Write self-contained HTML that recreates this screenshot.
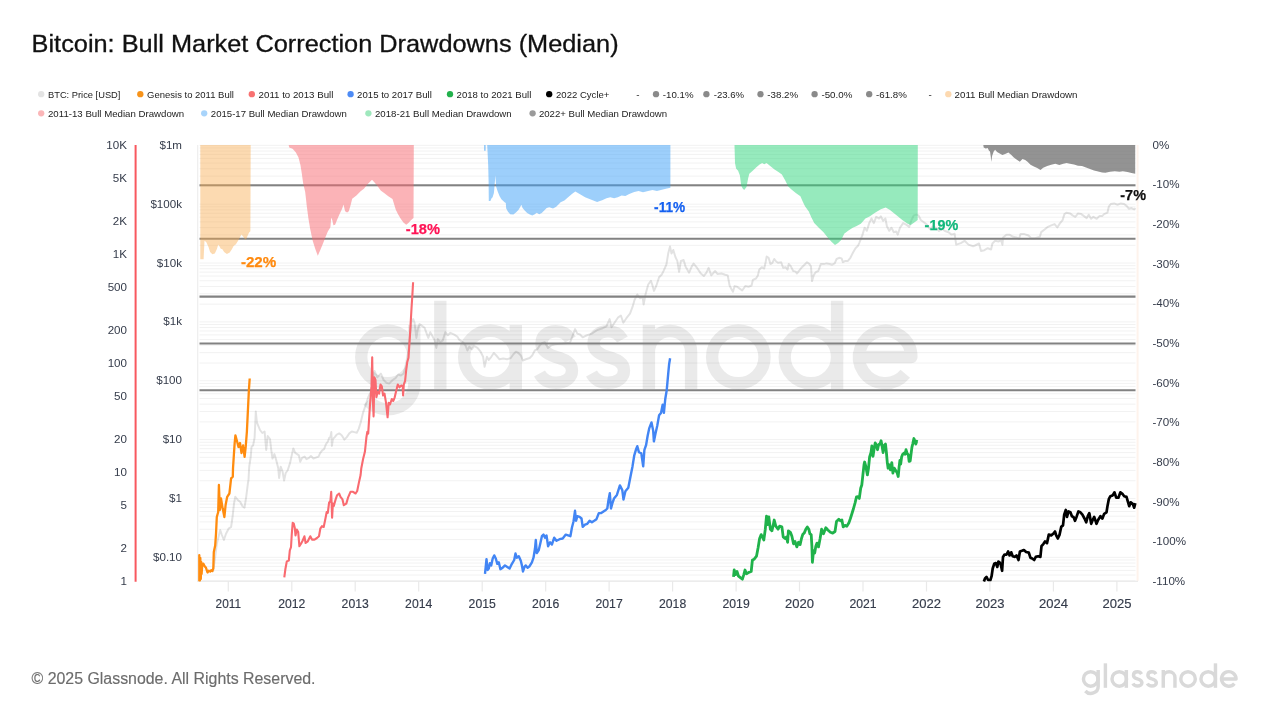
<!DOCTYPE html>
<html><head><meta charset="utf-8"><title>Bitcoin: Bull Market Correction Drawdowns (Median)</title>
<style>html,body{margin:0;padding:0;background:#fff}body{width:1271px;height:715px;overflow:hidden;position:relative;font-family:"Liberation Sans",sans-serif}svg{position:absolute;left:0;top:0;display:block;will-change:transform}text{font-family:"Liberation Sans",sans-serif}</style></head><body>
<svg width="1271" height="715" viewBox="0 0 1271 715">
<rect width="1271" height="715" fill="#fff"/>
<text x="31.6" y="51.5" font-size="24.2" fill="#111" stroke="#111" stroke-width="0.3" textLength="587" lengthAdjust="spacingAndGlyphs">Bitcoin: Bull Market Correction Drawdowns (Median)</text>
<circle cx="41.2" cy="94.2" r="3.15" fill="#e3e3e3"/>
<text x="48.0" y="97.9" font-size="9.8" fill="#222" textLength="72.4" lengthAdjust="spacingAndGlyphs">BTC: Price [USD]</text>
<circle cx="140.3" cy="94.2" r="3.15" fill="#f7931a"/>
<text x="147.1" y="97.9" font-size="9.8" fill="#222" textLength="86.8" lengthAdjust="spacingAndGlyphs">Genesis to 2011 Bull</text>
<circle cx="251.8" cy="94.2" r="3.15" fill="#f87171"/>
<text x="258.6" y="97.9" font-size="9.8" fill="#222" textLength="74.8" lengthAdjust="spacingAndGlyphs">2011 to 2013 Bull</text>
<circle cx="350.6" cy="94.2" r="3.15" fill="#4d8bf5"/>
<text x="357.1" y="97.9" font-size="9.8" fill="#222" textLength="74.8" lengthAdjust="spacingAndGlyphs">2015 to 2017 Bull</text>
<circle cx="450" cy="94.2" r="3.15" fill="#22b14c"/>
<text x="456.6" y="97.9" font-size="9.8" fill="#222" textLength="74.7" lengthAdjust="spacingAndGlyphs">2018 to 2021 Bull</text>
<circle cx="549.2" cy="94.2" r="3.15" fill="#000"/>
<text x="556" y="97.9" font-size="9.8" fill="#222" textLength="53.4" lengthAdjust="spacingAndGlyphs">2022 Cycle+</text>
<text x="636.2" y="97.9" font-size="9.8" fill="#222">-</text>
<circle cx="656" cy="94.2" r="3.15" fill="#8a8a8a"/>
<text x="662.8" y="97.9" font-size="9.8" fill="#222" textLength="30.7" lengthAdjust="spacingAndGlyphs">-10.1%</text>
<circle cx="706.4" cy="94.2" r="3.15" fill="#8a8a8a"/>
<text x="713.7" y="97.9" font-size="9.8" fill="#222" textLength="30.4" lengthAdjust="spacingAndGlyphs">-23.6%</text>
<circle cx="760.5" cy="94.2" r="3.15" fill="#8a8a8a"/>
<text x="767.3" y="97.9" font-size="9.8" fill="#222" textLength="30.9" lengthAdjust="spacingAndGlyphs">-38.2%</text>
<circle cx="814.6" cy="94.2" r="3.15" fill="#8a8a8a"/>
<text x="821.4" y="97.9" font-size="9.8" fill="#222" textLength="31.0" lengthAdjust="spacingAndGlyphs">-50.0%</text>
<circle cx="869.2" cy="94.2" r="3.15" fill="#8a8a8a"/>
<text x="876" y="97.9" font-size="9.8" fill="#222" textLength="30.8" lengthAdjust="spacingAndGlyphs">-61.8%</text>
<text x="928.6" y="97.9" font-size="9.8" fill="#222">-</text>
<circle cx="948.3" cy="94.2" r="3.15" fill="#fdd9b0"/>
<text x="954.6" y="97.9" font-size="9.8" fill="#222" textLength="122.9" lengthAdjust="spacingAndGlyphs">2011 Bull Median Drawdown</text>
<circle cx="41.2" cy="113.3" r="3.15" fill="#fbb6b8"/>
<text x="48.0" y="116.9" font-size="9.8" fill="#222" textLength="136.1" lengthAdjust="spacingAndGlyphs">2011-13 Bull Median Drawdown</text>
<circle cx="204.2" cy="113.3" r="3.15" fill="#a8d4fb"/>
<text x="210.8" y="116.9" font-size="9.8" fill="#222" textLength="136.1" lengthAdjust="spacingAndGlyphs">2015-17 Bull Median Drawdown</text>
<circle cx="368.4" cy="113.3" r="3.15" fill="#9fe8bd"/>
<text x="375" y="116.9" font-size="9.8" fill="#222" textLength="136.7" lengthAdjust="spacingAndGlyphs">2018-21 Bull Median Drawdown</text>
<circle cx="532.6" cy="113.3" r="3.15" fill="#9a9a9a"/>
<text x="538.9" y="116.9" font-size="9.8" fill="#222" textLength="128.2" lengthAdjust="spacingAndGlyphs">2022+ Bull Median Drawdown</text>
<defs><g id="gn" fill="none" stroke-width="12.4" stroke-linecap="butt" stroke-linejoin="round">
<circle cx="387.4" cy="357" r="26.2"/><path d="M414.3 325V384.3A26.3 25 0 0 1 368 400.5"/>
<path d="M440.3 300.8V389"/>
<circle cx="490.3" cy="357" r="26.2"/><path d="M515.8 325V389"/>
<path d="M570.5 339.5 C567.0 333.5 561.0 331.2 556.0 331.2 C547.0 331.2 541.5 336 541.5 343.5 C541.5 351 548.0 354.5 556.0 357 C565.0 359.5 572.0 362.5 572.0 370.5 C572.0 378 565.0 382.8 556.0 382.8 C549.0 382.8 543.0 380 539.5 373.5"/>
<path d="M622.5 339.5 C619.0 333.5 613.0 331.2 608.0 331.2 C599.0 331.2 593.5 336 593.5 343.5 C593.5 351 600.0 354.5 608.0 357 C617.0 359.5 624.0 362.5 624.0 370.5 C624.0 378 617.0 382.8 608.0 382.8 C601.0 382.8 595.0 380 591.5 373.5"/>
<path d="M648.9 389V325M648.9 352A21.1 21.1 0 0 1 691.1 352V389"/>
<circle cx="738.3" cy="357" r="26.2"/>
<circle cx="810.9" cy="357" r="26.2"/><path d="M837.1 300.8V389"/>
<path d="M859 357H911.4A26.2 26.2 0 1 0 905.3 373.8"/>
</g></defs>
<g stroke="#f2f2f2" stroke-width="1" fill="none">
<path d="M199.5 580.72H1135.5"/>
<path d="M199.5 575.02H1135.5"/>
<path d="M199.5 570.36H1135.5"/>
<path d="M199.5 566.42H1135.5"/>
<path d="M199.5 563.00H1135.5"/>
<path d="M199.5 559.99H1135.5"/>
<path d="M199.5 557.30H1135.5"/>
<path d="M199.5 539.58H1135.5"/>
<path d="M199.5 529.22H1135.5"/>
<path d="M199.5 521.86H1135.5"/>
<path d="M199.5 516.16H1135.5"/>
<path d="M199.5 511.50H1135.5"/>
<path d="M199.5 507.56H1135.5"/>
<path d="M199.5 504.15H1135.5"/>
<path d="M199.5 501.14H1135.5"/>
<path d="M199.5 498.44H1135.5"/>
<path d="M199.5 480.72H1135.5"/>
<path d="M199.5 470.36H1135.5"/>
<path d="M199.5 463.01H1135.5"/>
<path d="M199.5 457.30H1135.5"/>
<path d="M199.5 452.64H1135.5"/>
<path d="M199.5 448.70H1135.5"/>
<path d="M199.5 445.29H1135.5"/>
<path d="M199.5 442.28H1135.5"/>
<path d="M199.5 439.58H1135.5"/>
<path d="M199.5 421.87H1135.5"/>
<path d="M199.5 411.50H1135.5"/>
<path d="M199.5 404.15H1135.5"/>
<path d="M199.5 398.45H1135.5"/>
<path d="M199.5 393.79H1135.5"/>
<path d="M199.5 389.85H1135.5"/>
<path d="M199.5 386.43H1135.5"/>
<path d="M199.5 383.42H1135.5"/>
<path d="M199.5 380.73H1135.5"/>
<path d="M199.5 363.01H1135.5"/>
<path d="M199.5 352.65H1135.5"/>
<path d="M199.5 345.29H1135.5"/>
<path d="M199.5 339.59H1135.5"/>
<path d="M199.5 334.93H1135.5"/>
<path d="M199.5 330.99H1135.5"/>
<path d="M199.5 327.57H1135.5"/>
<path d="M199.5 324.56H1135.5"/>
<path d="M199.5 321.87H1135.5"/>
<path d="M199.5 304.15H1135.5"/>
<path d="M199.5 293.79H1135.5"/>
<path d="M199.5 286.44H1135.5"/>
<path d="M199.5 280.73H1135.5"/>
<path d="M199.5 276.07H1135.5"/>
<path d="M199.5 272.13H1135.5"/>
<path d="M199.5 268.72H1135.5"/>
<path d="M199.5 265.71H1135.5"/>
<path d="M199.5 263.01H1135.5"/>
<path d="M199.5 245.30H1135.5"/>
<path d="M199.5 234.93H1135.5"/>
<path d="M199.5 227.58H1135.5"/>
<path d="M199.5 221.87H1135.5"/>
<path d="M199.5 217.21H1135.5"/>
<path d="M199.5 213.27H1135.5"/>
<path d="M199.5 209.86H1135.5"/>
<path d="M199.5 206.85H1135.5"/>
<path d="M199.5 204.16H1135.5"/>
<path d="M199.5 186.44H1135.5"/>
<path d="M199.5 176.08H1135.5"/>
<path d="M199.5 168.72H1135.5"/>
<path d="M199.5 163.02H1135.5"/>
<path d="M199.5 158.36H1135.5"/>
<path d="M199.5 154.42H1135.5"/>
<path d="M199.5 151.00H1135.5"/>
<path d="M199.5 147.99H1135.5"/>
<path d="M199.5 145.30H1135.5"/>
</g>
<path d="M197.7 145.0V581" stroke="#eeeeee" stroke-width="1.2"/>
<path d="M1137.6 145.0V581" stroke="#fef3ec" stroke-width="2"/>
<path d="M197 581.3H1138" stroke="#ececec" stroke-width="1.2"/>
<path d="M228.3 581V591.5" stroke="#e9e9e9" stroke-width="1.2"/>
<text x="228.3" y="607.8" font-size="12.4" fill="#343b4a" stroke="#343b4a" stroke-width="0.15" text-anchor="middle" textLength="25.5" lengthAdjust="spacingAndGlyphs">2011</text>
<path d="M291.8 581V591.5" stroke="#e9e9e9" stroke-width="1.2"/>
<text x="291.8" y="607.8" font-size="12.4" fill="#343b4a" stroke="#343b4a" stroke-width="0.15" text-anchor="middle" textLength="27.2" lengthAdjust="spacingAndGlyphs">2012</text>
<path d="M355.2 581V591.5" stroke="#e9e9e9" stroke-width="1.2"/>
<text x="355.2" y="607.8" font-size="12.4" fill="#343b4a" stroke="#343b4a" stroke-width="0.15" text-anchor="middle" textLength="27.2" lengthAdjust="spacingAndGlyphs">2013</text>
<path d="M418.7 581V591.5" stroke="#e9e9e9" stroke-width="1.2"/>
<text x="418.7" y="607.8" font-size="12.4" fill="#343b4a" stroke="#343b4a" stroke-width="0.15" text-anchor="middle" textLength="27.2" lengthAdjust="spacingAndGlyphs">2014</text>
<path d="M482.2 581V591.5" stroke="#e9e9e9" stroke-width="1.2"/>
<text x="482.2" y="607.8" font-size="12.4" fill="#343b4a" stroke="#343b4a" stroke-width="0.15" text-anchor="middle" textLength="27.2" lengthAdjust="spacingAndGlyphs">2015</text>
<path d="M545.7 581V591.5" stroke="#e9e9e9" stroke-width="1.2"/>
<text x="545.7" y="607.8" font-size="12.4" fill="#343b4a" stroke="#343b4a" stroke-width="0.15" text-anchor="middle" textLength="27.2" lengthAdjust="spacingAndGlyphs">2016</text>
<path d="M609.1 581V591.5" stroke="#e9e9e9" stroke-width="1.2"/>
<text x="609.1" y="607.8" font-size="12.4" fill="#343b4a" stroke="#343b4a" stroke-width="0.15" text-anchor="middle" textLength="27.2" lengthAdjust="spacingAndGlyphs">2017</text>
<path d="M672.6 581V591.5" stroke="#e9e9e9" stroke-width="1.2"/>
<text x="672.6" y="607.8" font-size="12.4" fill="#343b4a" stroke="#343b4a" stroke-width="0.15" text-anchor="middle" textLength="27.2" lengthAdjust="spacingAndGlyphs">2018</text>
<path d="M736.1 581V591.5" stroke="#e9e9e9" stroke-width="1.2"/>
<text x="736.1" y="607.8" font-size="12.4" fill="#343b4a" stroke="#343b4a" stroke-width="0.15" text-anchor="middle" textLength="27.2" lengthAdjust="spacingAndGlyphs">2019</text>
<path d="M799.5 581V591.5" stroke="#e9e9e9" stroke-width="1.2"/>
<text x="799.5" y="607.8" font-size="12.4" fill="#343b4a" stroke="#343b4a" stroke-width="0.15" text-anchor="middle" textLength="29.0" lengthAdjust="spacingAndGlyphs">2020</text>
<path d="M863.0 581V591.5" stroke="#e9e9e9" stroke-width="1.2"/>
<text x="863.0" y="607.8" font-size="12.4" fill="#343b4a" stroke="#343b4a" stroke-width="0.15" text-anchor="middle" textLength="27.2" lengthAdjust="spacingAndGlyphs">2021</text>
<path d="M926.5 581V591.5" stroke="#e9e9e9" stroke-width="1.2"/>
<text x="926.5" y="607.8" font-size="12.4" fill="#343b4a" stroke="#343b4a" stroke-width="0.15" text-anchor="middle" textLength="29.0" lengthAdjust="spacingAndGlyphs">2022</text>
<path d="M989.9 581V591.5" stroke="#e9e9e9" stroke-width="1.2"/>
<text x="989.9" y="607.8" font-size="12.4" fill="#343b4a" stroke="#343b4a" stroke-width="0.15" text-anchor="middle" textLength="29.0" lengthAdjust="spacingAndGlyphs">2023</text>
<path d="M1053.4 581V591.5" stroke="#e9e9e9" stroke-width="1.2"/>
<text x="1053.4" y="607.8" font-size="12.4" fill="#343b4a" stroke="#343b4a" stroke-width="0.15" text-anchor="middle" textLength="29.0" lengthAdjust="spacingAndGlyphs">2024</text>
<path d="M1116.9 581V591.5" stroke="#e9e9e9" stroke-width="1.2"/>
<text x="1116.9" y="607.8" font-size="12.4" fill="#343b4a" stroke="#343b4a" stroke-width="0.15" text-anchor="middle" textLength="29.0" lengthAdjust="spacingAndGlyphs">2025</text>
<use href="#gn" stroke="#000" opacity="0.08"/>
<path d="M213.0 572.0 L215.2 557.0 L216.8 543.8 L218.5 537.0 L220.2 530.0 L221.9 535.0 L223.9 540.0 L226.0 533.8 L228.6 528.7 L231.1 527.0 L232.8 515.0 L234.0 503.6 L235.3 496.8 L237.8 500.0 L240.3 502.0 L242.3 506.0 L244.5 507.7 L246.2 496.8 L247.9 483.4 L248.5 480.0 L249.2 467.0 L250.8 456.0 L251.5 447.0 L253.1 445.4 L254.6 437.7 L255.4 420.8 L255.8 411.5 L256.9 422.3 L260.0 430.0 L262.3 433.0 L264.6 431.5 L266.2 450.0 L267.7 436.0 L270.0 439.0 L271.3 450.3 L272.5 458.5 L274.4 454.1 L276.3 460.4 L278.2 468.0 L279.1 478.0 L280.7 466.7 L282.6 471.7 L284.1 480.6 L285.7 473.0 L287.6 470.5 L290.1 462.9 L292.0 454.1 L293.3 448.5 L295.2 452.9 L297.1 454.1 L298.9 455.4 L300.2 461.7 L302.1 457.9 L304.6 456.6 L306.5 459.2 L309.0 457.9 L310.9 456.0 L313.4 458.5 L315.9 457.6 L318.5 456.6 L320.3 452.9 L322.2 450.3 L324.1 449.1 L326.0 444.1 L327.9 441.5 L329.2 437.8 L330.4 437.1 L331.3 432.1 L331.9 445.9 L332.9 439.0 L334.8 437.1 L336.7 434.6 L339.2 433.4 L341.7 435.2 L344.3 439.6 L346.8 437.1 L349.3 433.4 L351.8 431.5 L354.3 432.1 L356.8 432.7 L358.7 428.9 L360.6 422.7 L363.1 412.6 L365.7 405.0 L368.2 397.3 L370.9 391.8 L374.5 370.9 L377.3 377.3 L380.9 373.6 L383.6 380.0 L386.4 382.7 L389.1 383.6 L392.7 380.0 L395.5 378.2 L398.2 374.5 L400.9 375.5 L403.6 373.6 L405.1 368.0 L406.4 362.0 L408.5 350.0 L410.0 334.6 L411.5 322.0 L413.2 319.0 L414.5 322.7 L416.4 337.9 L417.6 330.3 L419.5 324.0 L422.0 325.9 L424.6 327.8 L426.4 332.8 L428.3 337.9 L430.2 332.2 L432.7 336.6 L434.6 340.4 L436.3 347.9 L437.8 339.1 L440.3 342.3 L442.8 340.4 L445.3 332.2 L447.9 335.3 L450.4 332.8 L454.2 334.7 L457.3 336.6 L459.2 339.7 L463.0 342.3 L465.5 345.4 L467.4 350.5 L469.3 346.7 L471.8 349.2 L474.3 346.0 L477.5 347.9 L480.6 351.7 L483.1 356.8 L484.6 366.8 L486.9 356.8 L488.8 359.9 L491.3 356.8 L493.8 353.0 L496.3 355.5 L499.5 359.3 L503.3 358.6 L507.1 359.3 L510.8 358.0 L513.4 354.2 L515.9 351.7 L518.4 353.0 L520.9 355.5 L522.8 360.5 L525.9 359.3 L529.7 358.0 L532.2 355.5 L534.8 350.5 L537.3 349.2 L539.8 345.4 L542.3 342.9 L544.8 342.3 L548.0 347.9 L551.1 345.4 L554.9 344.2 L562.7 343.6 L570.0 342.7 L572.7 335.5 L575.1 329.1 L577.3 333.6 L580.0 334.5 L582.7 337.3 L586.4 335.5 L591.8 333.6 L597.3 330.0 L602.7 328.2 L606.4 326.4 L609.6 319.1 L611.5 327.3 L614.5 322.7 L618.2 317.3 L620.9 315.5 L623.3 322.7 L626.4 318.2 L630.0 313.6 L632.7 306.4 L634.5 300.0 L637.3 294.5 L640.0 298.2 L642.7 297.3 L643.6 304.5 L645.5 294.5 L648.2 284.5 L650.9 280.9 L652.2 284.5 L654.0 290.9 L656.4 285.5 L659.1 277.3 L661.8 274.5 L663.6 270.9 L666.4 264.5 L668.2 253.6 L670.0 246.4 L671.5 253.6 L673.3 250.0 L675.5 257.3 L677.3 260.9 L679.1 271.8 L680.9 260.9 L683.6 260.0 L685.5 266.4 L689.1 272.7 L691.8 266.4 L693.6 263.6 L697.3 268.2 L700.9 273.6 L703.8 276.0 L706.3 272.9 L708.6 267.8 L711.3 275.4 L715.1 271.0 L717.6 274.1 L721.4 273.5 L725.2 274.8 L727.7 275.4 L729.6 285.5 L731.5 289.2 L733.0 291.8 L734.6 286.1 L737.1 286.7 L739.7 288.6 L742.2 290.5 L745.3 286.1 L748.5 286.7 L751.6 285.5 L752.9 279.8 L756.0 278.5 L757.9 275.4 L759.2 269.7 L761.7 267.2 L764.2 268.5 L765.5 262.8 L766.7 256.5 L768.6 257.8 L770.5 264.1 L772.4 262.8 L774.3 259.0 L776.2 261.5 L778.0 262.8 L781.2 262.2 L783.1 267.8 L785.6 267.2 L787.5 269.7 L788.7 264.1 L790.6 265.9 L793.2 271.0 L795.7 271.6 L796.9 273.5 L799.4 270.4 L802.0 267.2 L804.5 264.7 L807.0 262.2 L809.5 264.1 L811.0 266.6 L812.0 281.1 L813.9 274.8 L815.8 272.2 L818.3 271.0 L820.8 264.1 L824.0 264.1 L826.5 263.4 L829.7 264.1 L832.2 264.7 L834.7 263.4 L836.6 259.0 L839.1 257.8 L841.6 258.4 L842.9 262.2 L845.4 260.9 L847.9 260.9 L850.4 257.8 L852.9 252.7 L855.5 248.3 L858.0 245.8 L859.2 243.1 L862.3 235.4 L864.6 227.7 L866.9 230.8 L869.2 223.1 L871.5 218.5 L873.8 223.1 L876.2 216.9 L879.2 218.5 L880.8 216.2 L883.1 220.8 L885.4 218.5 L886.9 226.2 L889.2 230.8 L891.5 227.7 L893.8 232.3 L896.2 231.5 L897.7 234.6 L900.0 227.7 L903.1 223.1 L906.2 224.6 L909.2 226.9 L911.5 220.0 L913.8 215.4 L916.2 214.6 L918.5 215.4 L920.8 220.0 L923.8 222.3 L926.9 224.6 L930.0 229.2 L933.1 226.2 L936.0 228.0 L939.0 231.0 L942.0 229.0 L945.0 231.0 L948.5 232.3 L951.5 234.6 L954.6 233.8 L956.2 244.6 L960.8 243.1 L964.6 240.8 L968.5 244.6 L973.1 246.2 L975.0 245.5 L979.0 243.5 L981.0 250.9 L984.4 250.2 L987.7 248.2 L991.1 249.5 L992.4 243.5 L995.1 240.8 L998.4 241.5 L1001.1 240.2 L1002.4 244.8 L1003.1 237.5 L1006.4 234.8 L1009.8 234.8 L1013.1 236.8 L1016.5 237.5 L1019.1 238.8 L1020.5 234.1 L1024.5 234.1 L1028.5 235.5 L1031.2 238.2 L1035.2 238.2 L1039.9 236.8 L1041.2 232.1 L1044.6 229.5 L1047.9 226.8 L1051.2 225.4 L1054.6 224.1 L1057.3 227.5 L1059.9 223.4 L1062.6 220.1 L1064.4 214.1 L1066.6 212.7 L1070.0 213.4 L1072.6 215.4 L1075.3 216.8 L1078.0 213.4 L1081.3 214.1 L1084.0 216.1 L1086.7 218.1 L1088.7 214.7 L1091.1 218.8 L1093.4 216.8 L1096.7 218.8 L1099.4 216.1 L1102.1 216.1 L1104.1 214.1 L1107.4 212.7 L1108.8 206.7 L1110.8 204.0 L1114.1 203.4 L1117.5 204.7 L1120.8 203.4 L1124.1 204.0 L1126.8 206.1 L1128.8 208.7 L1131.5 208.1 L1134.2 209.4 L1135.5 208.1" fill="none" stroke="#000" stroke-opacity="0.115" stroke-width="2.0" stroke-linejoin="round"/>
<path d="M199.5 185.2H1135.5" stroke="#828282" stroke-width="2.05"/>
<path d="M199.5 238.7H1135.5" stroke="#828282" stroke-width="2.05"/>
<path d="M199.5 296.6H1135.5" stroke="#828282" stroke-width="2.05"/>
<path d="M199.5 343.4H1135.5" stroke="#828282" stroke-width="2.05"/>
<path d="M199.5 390.2H1135.5" stroke="#828282" stroke-width="2.05"/>
<polygon points="200.3,145.0 200.3,259.3 203.6,259.3 204.5,240.8 206.2,242.0 208.5,247.0 210.1,252.0 212.4,254.2 214.8,253.5 216.8,249.2 218.2,244.7 219.6,246.4 220.8,248.7 222.4,249.2 224.1,252.0 226.9,254.0 229.7,252.6 231.9,249.2 233.6,245.9 235.9,244.2 238.1,240.8 239.8,237.5 241.5,234.5 243.1,236.4 244.8,239.1 245.9,239.7 247.6,235.8 249.1,232.4 250.4,231.3 250.7,145.0" fill="#f9a94b" fill-opacity="0.43"/>
<polygon points="288.7,145.0 289.2,147.6 292.6,148.7 295.9,152.6 298.5,157.6 300.5,165.2 301.8,173.6 303.2,183.6 305.2,192.0 306.9,207.1 308.5,218.9 310.2,229.0 312.7,240.7 315.3,249.1 317.8,255.8 320.3,250.0 322.8,244.1 325.3,237.4 327.8,231.5 330.4,227.3 331.2,217.6 332.4,220.6 333.4,225.3 335.1,224.8 337.1,219.7 339.6,213.9 342.1,208.8 343.5,204.6 345.1,211.3 347.1,212.5 348.8,211.3 350.5,205.5 352.2,198.8 356.4,195.4 360.6,191.2 363.9,188.7 367.3,184.5 372.0,179.8 374.8,182.8 378.2,187.0 380.7,190.4 384.1,192.9 388.3,196.2 392.5,199.1 394.2,204.6 395.8,209.7 398.3,214.7 400.9,218.9 403.4,222.4 406.2,224.8 408.4,222.9 410.9,220.2 413.5,218.1 413.8,145.0" fill="#f8686f" fill-opacity="0.5"/>
<polygon points="484.0,145.0 484.0,150.7 485.7,150.7 485.7,145.0" fill="#3b9ff8" fill-opacity="0.5"/>
<polygon points="487.2,145.0 487.6,152.6 488.2,165.2 488.6,181.5 488.8,201.0 490.4,201.0 491.4,198.5 492.6,197.3 493.9,192.9 494.5,186.6 495.4,175.2 496.1,186.6 497.7,191.6 499.5,196.0 501.4,199.2 504.6,202.3 505.8,202.9 506.2,208.6 508.0,211.7 510.2,214.3 513.4,214.5 515.9,212.4 518.4,209.9 520.1,207.3 521.3,204.8 522.6,208.0 524.7,210.5 527.2,213.0 529.8,214.5 532.3,215.5 534.8,214.3 536.7,212.8 539.2,214.3 541.7,213.0 544.2,210.5 546.7,208.0 549.3,207.3 553.0,208.6 556.2,206.7 558.7,204.2 560.6,202.3 564.4,200.4 568.1,197.3 571.9,194.1 575.3,191.6 578.8,193.5 585.1,197.3 591.4,199.8 597.1,202.0 602.1,200.2 606.5,198.2 610.3,197.3 614.1,198.2 617.8,197.3 621.6,195.4 625.4,196.0 629.2,194.1 634.2,191.9 638.6,191.0 643.0,192.3 648.1,191.0 652.5,190.0 656.9,191.0 661.9,189.7 667.0,188.5 670.4,187.8 670.4,145.0" fill="#3b9ff8" fill-opacity="0.5"/>
<polygon points="734.5,145.0 735.0,163.1 736.1,168.5 738.1,170.8 739.9,175.4 741.2,185.4 742.7,188.5 744.2,190.0 746.5,186.9 748.1,178.5 749.3,173.8 752.7,170.8 755.8,167.7 759.6,164.6 762.2,163.1 764.2,164.3 766.5,163.1 769.6,165.4 774.2,169.2 778.8,172.3 781.9,174.6 785.0,180.0 788.1,186.2 791.2,189.2 795.8,193.1 800.4,196.2 802.7,201.5 805.0,206.2 808.8,211.5 811.2,216.9 814.2,223.1 818.8,227.7 823.5,232.3 827.3,236.9 831.2,241.5 835.0,244.9 838.1,243.1 841.2,240.0 844.2,233.8 848.1,230.8 852.7,227.7 856.2,226.2 860.8,223.8 865.4,218.5 870.0,216.2 874.6,213.1 880.8,209.2 885.7,207.4 890.0,210.0 896.2,215.1 902.3,220.0 907.7,223.8 910.8,225.1 914.6,222.3 917.7,220.0 917.8,145.0" fill="#2dd67b" fill-opacity="0.5"/>
<polygon points="983.3,145.0 983.7,147.6 985.7,148.4 987.7,148.0 989.0,150.7 990.0,151.4 990.8,156.7 991.3,162.1 992.1,156.1 993.7,151.4 995.1,149.8 997.1,152.0 999.7,153.4 1002.4,155.1 1005.1,154.1 1008.4,152.4 1011.1,154.7 1013.8,157.4 1016.5,159.4 1019.8,161.8 1022.5,159.0 1025.2,160.1 1027.8,162.1 1030.5,164.8 1033.9,166.4 1037.2,168.1 1040.5,170.1 1043.2,167.7 1047.2,166.1 1051.2,164.8 1055.3,163.8 1059.3,165.0 1063.3,163.8 1066.6,163.0 1070.0,163.8 1074.0,164.5 1078.0,165.7 1082.0,166.1 1086.0,167.4 1090.0,169.0 1094.0,170.5 1098.1,171.4 1102.1,172.4 1105.4,172.8 1110.1,171.8 1114.8,171.2 1119.5,171.7 1122.8,171.3 1127.5,172.1 1131.5,173.0 1135.2,173.8 1135.2,145.0" fill="#6f6f6f" fill-opacity="0.75"/>
<path d="M199.3 581.2 L199.3 555.2 L199.9 580.5 L200.3 558.0 L200.8 579.0 L201.2 562.0 L201.6 574.0 L202.3 564.1 L203.3 563.6 L204.5 566.0 L206.0 567.8 L207.5 572.5 L208.8 570.6 L210.2 571.6 L211.2 570.2 L212.3 571.0 L213.3 568.3 L213.8 552.0 L215.2 545.5 L216.0 533.8 L216.8 517.0 L218.2 512.0 L218.9 485.0 L219.9 510.0 L221.0 498.5 L222.7 508.6 L224.4 517.0 L225.6 505.0 L227.2 496.8 L229.4 493.5 L231.1 478.4 L232.8 476.7 L233.0 468.5 L233.8 456.0 L234.6 443.8 L235.4 435.4 L236.9 440.8 L238.5 447.0 L240.0 443.0 L241.5 453.0 L243.1 445.4 L244.6 456.9 L245.7 446.9 L246.9 431.5 L247.7 414.6 L248.9 390.0 L249.7 378.5" fill="none" stroke="#ff8c0f" stroke-width="2.3" stroke-linejoin="round" stroke-linecap="butt"/>
<path d="M284.3 577.4 L285.4 569.0 L286.8 561.4 L288.8 560.6 L289.8 550.5 L291.0 547.2 L291.8 533.8 L292.7 522.9 L293.8 523.7 L294.8 527.9 L295.5 535.4 L296.8 529.6 L298.2 532.0 L299.4 546.3 L301.0 543.8 L302.7 540.5 L304.4 536.3 L305.6 543.0 L307.8 541.3 L310.3 536.3 L312.0 539.6 L314.5 539.6 L317.0 538.0 L319.0 536.3 L320.3 528.7 L322.0 526.2 L323.7 527.0 L325.4 518.7 L326.7 512.0 L327.8 512.8 L329.1 502.7 L330.4 501.0 L331.2 491.8 L332.1 517.8 L332.9 503.6 L333.8 506.0 L335.4 500.2 L337.1 495.2 L339.1 493.5 L340.5 496.8 L342.5 499.4 L343.8 505.2 L346.3 503.6 L348.0 497.7 L350.5 491.8 L353.0 491.8 L355.6 493.5 L357.2 491.0 L358.9 482.6 L360.6 475.0 L361.3 468.2 L363.1 459.0 L364.9 451.8 L366.4 437.3 L367.3 431.8 L368.2 433.6 L369.1 419.0 L370.0 404.5 L371.5 386.4 L372.2 357.3 L372.9 401.0 L373.6 416.4 L374.4 377.3 L375.5 380.0 L376.4 397.3 L377.6 391.8 L379.1 393.6 L380.5 384.5 L381.8 386.4 L383.1 395.5 L384.5 393.6 L386.0 402.7 L387.6 417.3 L388.7 402.7 L390.0 404.5 L391.8 399.0 L393.3 401.0 L394.7 397.3 L396.4 390.0 L397.8 384.5 L399.5 387.3 L401.3 385.5 L402.7 386.4 L403.1 395.5 L403.8 384.5 L405.1 380.9 L406.2 370.0 L407.2 362.3 L408.5 357.7 L409.2 346.9 L410.0 334.6 L410.8 320.8 L411.5 308.5 L412.3 296.2 L413.1 282.3" fill="none" stroke="#f96a70" stroke-width="2.1" stroke-linejoin="round" stroke-linecap="butt"/>
<path d="M485.0 573.8 L485.8 566.2 L486.5 559.2 L487.6 570.0 L488.8 568.5 L489.9 563.1 L491.2 565.4 L492.7 558.5 L494.2 555.4 L495.8 558.5 L497.3 563.8 L498.8 562.3 L500.4 569.2 L502.7 567.7 L505.0 565.4 L507.3 566.9 L509.6 568.5 L511.9 563.8 L514.2 560.0 L515.5 553.5 L516.8 557.7 L518.8 556.2 L520.8 560.8 L521.9 565.4 L523.0 571.5 L524.5 566.9 L525.8 565.4 L527.6 567.7 L529.6 566.2 L531.9 562.3 L533.5 557.7 L535.0 548.5 L535.8 540.0 L536.8 553.1 L538.8 550.0 L540.4 543.1 L541.9 536.2 L543.5 534.6 L545.0 537.7 L546.5 535.4 L548.1 546.2 L550.1 542.3 L551.9 544.6 L554.2 537.7 L556.5 540.8 L559.6 539.2 L562.7 538.5 L565.8 534.6 L568.1 535.4 L570.4 536.2 L571.9 527.7 L573.5 521.5 L575.0 510.8 L576.1 520.8 L577.3 516.2 L579.6 516.9 L581.5 518.5 L582.7 526.9 L585.0 524.6 L587.3 523.8 L589.6 520.8 L591.9 522.3 L594.2 520.8 L596.5 519.2 L598.8 513.1 L601.2 513.1 L603.5 511.5 L605.8 510.0 L607.3 508.5 L608.5 500.0 L609.8 493.1 L611.0 508.5 L612.7 502.3 L614.0 498.5 L616.9 494.9 L619.9 485.4 L622.3 490.1 L623.5 499.6 L625.4 491.3 L628.3 487.8 L630.6 475.9 L632.5 466.4 L634.2 455.7 L635.9 449.8 L637.3 446.2 L638.9 452.1 L641.3 453.3 L643.2 466.4 L644.4 449.8 L646.1 445.0 L647.7 435.5 L649.2 428.4 L651.5 422.4 L653.2 430.8 L653.9 441.4 L655.6 433.1 L657.2 426.0 L659.1 415.3 L661.0 412.9 L662.7 404.6 L663.9 412.9 L665.3 398.7 L666.7 390.4 L668.2 373.8 L669.1 364.3 L670.1 358.3" fill="none" stroke="#4285f4" stroke-width="2.4" stroke-linejoin="round" stroke-linecap="butt"/>
<path d="M733.5 576.9 L734.2 570.0 L735.5 574.6 L737.0 571.5 L738.5 576.2 L740.4 577.7 L742.4 579.2 L743.8 574.6 L745.0 570.0 L746.5 573.8 L748.8 572.3 L751.2 571.5 L752.4 560.0 L754.2 559.2 L756.5 556.2 L758.1 547.7 L759.6 538.5 L761.2 534.6 L762.7 537.7 L763.8 540.0 L765.3 529.2 L766.5 516.2 L767.8 524.6 L768.8 516.9 L770.4 529.2 L771.9 530.8 L773.0 526.2 L774.2 520.0 L775.8 526.2 L778.1 529.2 L779.6 526.2 L781.9 526.9 L783.2 536.9 L785.0 538.5 L786.5 536.9 L787.6 542.3 L788.4 530.8 L790.4 532.3 L791.9 536.2 L793.5 543.8 L795.0 541.5 L796.8 546.9 L798.5 542.3 L800.1 544.6 L801.5 538.5 L802.7 534.6 L804.2 533.1 L805.8 529.2 L807.3 526.9 L808.8 529.2 L809.9 533.8 L811.2 534.6 L811.9 546.2 L812.4 562.3 L813.5 550.8 L814.7 553.1 L815.8 546.2 L817.0 543.1 L818.5 546.9 L820.1 538.5 L821.6 529.2 L823.5 533.8 L825.8 527.7 L827.8 530.0 L830.4 532.3 L832.7 533.1 L835.0 531.5 L836.5 521.5 L838.8 519.2 L840.4 520.8 L841.9 520.0 L843.2 526.9 L845.0 525.4 L846.8 526.2 L848.8 523.1 L850.4 518.5 L851.9 513.8 L853.5 508.5 L855.0 503.1 L856.5 496.9 L857.9 496.7 L859.3 498.4 L860.7 488.3 L861.8 485.0 L862.9 474.9 L864.0 464.8 L864.6 462.0 L865.7 465.9 L867.4 474.9 L868.5 468.2 L869.6 457.0 L871.0 452.5 L871.9 445.8 L873.0 456.4 L874.1 449.1 L875.2 443.0 L876.4 445.2 L877.5 449.7 L878.6 444.6 L879.9 444.1 L881.1 440.7 L882.2 446.9 L883.1 452.5 L884.2 445.2 L885.5 444.1 L886.4 452.5 L887.3 462.6 L888.1 468.2 L889.2 464.8 L890.4 469.8 L891.8 462.6 L892.9 473.2 L894.3 468.2 L896.0 471.0 L897.1 472.6 L898.2 476.5 L899.1 467.0 L899.9 460.3 L900.7 464.2 L901.6 457.0 L902.7 454.2 L904.1 453.0 L905.2 454.2 L906.0 449.7 L907.2 453.6 L908.3 454.7 L909.1 461.4 L910.2 460.9 L911.1 453.6 L911.9 447.4 L912.7 444.1 L913.9 438.5 L915.0 441.3 L915.8 444.1 L916.7 441.3 L917.6 441.8" fill="none" stroke="#1fb24a" stroke-width="2.8" stroke-linejoin="round" stroke-linecap="butt"/>
<path d="M983.9 581.5 L985.0 578.5 L986.5 576.9 L988.1 580.0 L990.4 580.0 L991.6 576.2 L992.7 568.5 L994.2 563.8 L995.8 563.1 L997.3 566.9 L998.4 561.5 L999.6 562.3 L1000.8 564.6 L1002.1 570.8 L1003.0 556.9 L1004.5 554.6 L1006.5 554.6 L1008.1 551.5 L1009.6 555.4 L1011.2 552.3 L1012.7 556.2 L1015.0 556.9 L1016.5 555.4 L1018.5 560.0 L1019.9 551.5 L1021.9 550.8 L1023.9 550.0 L1026.1 552.0 L1028.8 552.6 L1030.4 557.7 L1032.2 558.5 L1034.2 560.0 L1035.8 556.9 L1038.1 556.2 L1040.4 556.9 L1041.5 546.2 L1043.5 543.8 L1045.0 541.5 L1047.0 543.1 L1048.8 534.6 L1051.2 535.4 L1053.2 533.8 L1055.0 531.5 L1056.2 535.4 L1057.8 538.5 L1059.6 534.6 L1061.2 526.9 L1063.0 525.4 L1064.2 514.6 L1065.8 510.0 L1067.0 516.9 L1068.5 511.5 L1070.4 512.3 L1071.9 516.2 L1073.5 516.9 L1075.0 520.8 L1076.5 516.9 L1078.4 511.5 L1080.4 512.3 L1082.4 514.6 L1084.5 518.5 L1086.2 522.3 L1087.8 516.2 L1089.3 513.1 L1091.2 523.8 L1092.7 520.0 L1094.2 516.9 L1096.5 523.8 L1098.1 520.0 L1100.4 516.2 L1102.4 518.5 L1104.2 513.8 L1106.5 512.3 L1107.6 505.4 L1108.8 499.2 L1110.4 496.2 L1112.7 495.4 L1114.5 492.3 L1116.2 497.7 L1118.4 497.7 L1120.4 492.3 L1122.4 493.8 L1124.2 496.2 L1126.5 496.9 L1128.1 502.3 L1129.2 506.2 L1130.7 502.3 L1132.7 503.8 L1134.2 507.7 L1135.3 503.1" fill="none" stroke="#000" stroke-width="2.7" stroke-linejoin="round" stroke-linecap="butt"/>
<path d="M135.6 145V581.8" stroke="#f8585f" stroke-width="2"/>
<text x="127" y="148.7" font-size="11.6" fill="#343b4a" text-anchor="end">10K</text>
<text x="127" y="181.5" font-size="11.6" fill="#343b4a" text-anchor="end">5K</text>
<text x="127" y="224.9" font-size="11.6" fill="#343b4a" text-anchor="end">2K</text>
<text x="127" y="257.8" font-size="11.6" fill="#343b4a" text-anchor="end">1K</text>
<text x="127" y="290.6" font-size="11.6" fill="#343b4a" text-anchor="end">500</text>
<text x="127" y="334.0" font-size="11.6" fill="#343b4a" text-anchor="end">200</text>
<text x="127" y="366.8" font-size="11.6" fill="#343b4a" text-anchor="end">100</text>
<text x="127" y="399.6" font-size="11.6" fill="#343b4a" text-anchor="end">50</text>
<text x="127" y="443.0" font-size="11.6" fill="#343b4a" text-anchor="end">20</text>
<text x="127" y="475.8" font-size="11.6" fill="#343b4a" text-anchor="end">10</text>
<text x="127" y="508.7" font-size="11.6" fill="#343b4a" text-anchor="end">5</text>
<text x="127" y="552.1" font-size="11.6" fill="#343b4a" text-anchor="end">2</text>
<text x="127" y="584.9" font-size="11.6" fill="#343b4a" text-anchor="end">1</text>
<text x="182" y="148.8" font-size="11.6" fill="#343b4a" text-anchor="end">$1m</text>
<text x="182" y="207.7" font-size="11.6" fill="#343b4a" text-anchor="end">$100k</text>
<text x="182" y="266.5" font-size="11.6" fill="#343b4a" text-anchor="end">$10k</text>
<text x="182" y="325.4" font-size="11.6" fill="#343b4a" text-anchor="end">$1k</text>
<text x="182" y="384.2" font-size="11.6" fill="#343b4a" text-anchor="end">$100</text>
<text x="182" y="443.1" font-size="11.6" fill="#343b4a" text-anchor="end">$10</text>
<text x="182" y="501.9" font-size="11.6" fill="#343b4a" text-anchor="end">$1</text>
<text x="182" y="561.3" font-size="11.6" fill="#343b4a" text-anchor="end">$0.10</text>
<text x="1152.5" y="148.6" font-size="11.6" fill="#343b4a">0%</text>
<text x="1152.5" y="188.3" font-size="11.6" fill="#343b4a">-10%</text>
<text x="1152.5" y="227.9" font-size="11.6" fill="#343b4a">-20%</text>
<text x="1152.5" y="267.6" font-size="11.6" fill="#343b4a">-30%</text>
<text x="1152.5" y="307.2" font-size="11.6" fill="#343b4a">-40%</text>
<text x="1152.5" y="346.9" font-size="11.6" fill="#343b4a">-50%</text>
<text x="1152.5" y="386.6" font-size="11.6" fill="#343b4a">-60%</text>
<text x="1152.5" y="426.2" font-size="11.6" fill="#343b4a">-70%</text>
<text x="1152.5" y="465.9" font-size="11.6" fill="#343b4a">-80%</text>
<text x="1152.5" y="505.5" font-size="11.6" fill="#343b4a">-90%</text>
<text x="1152.5" y="545.2" font-size="11.6" fill="#343b4a">-100%</text>
<text x="1152.5" y="584.9" font-size="11.6" fill="#343b4a">-110%</text>
<text x="240.9" y="267.1" font-size="15.4" font-weight="bold" fill="#ff8a0f" stroke="#ff8a0f" stroke-width="0.25" textLength="35.4" lengthAdjust="spacingAndGlyphs">-22%</text>
<text x="405.8" y="233.9" font-size="15.4" font-weight="bold" fill="#ff1456" stroke="#ff1456" stroke-width="0.25" textLength="34.1" lengthAdjust="spacingAndGlyphs">-18%</text>
<text x="654.1" y="211.8" font-size="15.4" font-weight="bold" fill="#1460f0" stroke="#1460f0" stroke-width="0.25" textLength="31.1" lengthAdjust="spacingAndGlyphs">-11%</text>
<text x="924.6" y="230.0" font-size="15.4" font-weight="bold" fill="#12b87c" stroke="#12b87c" stroke-width="0.25" textLength="33.6" lengthAdjust="spacingAndGlyphs">-19%</text>
<text x="1120.3" y="200.4" font-size="15.4" font-weight="bold" fill="#111" stroke="#111" stroke-width="0.25" textLength="25.7" lengthAdjust="spacingAndGlyphs">-7%</text>
<text x="31.5" y="683.7" font-size="16" fill="#6c6c6c" stroke="#6c6c6c" stroke-width="0.15" textLength="284" lengthAdjust="spacingAndGlyphs">© 2025 Glassnode. All Rights Reserved.</text>
<use href="#gn" stroke="#d9d9d9" transform="translate(1081.7 687.8) scale(0.2774) translate(-354.9 -389)"/>
</svg></body></html>
